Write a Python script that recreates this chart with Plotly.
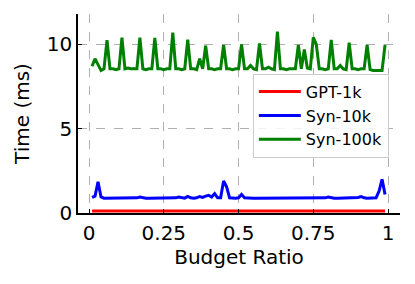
import plotly.graph_objects as go

budget_ratio = [round(0.01 * i, 2) for i in range(1, 100)]

gpt_1k = [0.12] * 99

syn_10k = [
    0.92, 1.0, 1.85, 0.95, 0.88, 0.88, 0.88, 0.87, 0.88, 0.88,
    0.88, 0.88, 0.88, 0.88, 0.88, 0.9, 0.95, 0.9, 0.88, 0.88,
    0.88, 0.88, 0.87, 0.87, 0.88, 0.88, 0.88, 0.88, 0.9, 0.95,
    0.9, 0.88, 0.98, 0.9, 0.88, 0.9, 0.98, 0.93, 1.0, 1.05,
    0.95, 1.15, 0.9, 0.9, 1.9, 1.55, 0.9, 0.88, 0.88, 0.9,
    1.1, 0.9, 0.88, 0.88, 0.88, 0.88, 0.88, 0.88, 0.88, 0.88,
    0.88, 0.88, 0.88, 0.88, 0.88, 0.88, 0.88, 0.88, 0.88, 0.88,
    0.88, 0.88, 0.88, 0.88, 0.88, 0.88, 0.88, 0.88, 0.9, 0.95,
    0.9, 0.88, 0.88, 0.88, 0.88, 0.88, 0.88, 0.88, 0.88, 0.92,
    0.97, 0.9, 0.88, 0.88, 0.88, 0.9, 1.3, 2.0, 1.1,
]

syn_100k = [
    8.7, 9.15, 8.8, 8.45, 8.55, 10.25, 8.55, 8.55, 8.5, 8.55,
    10.4, 8.55, 8.6, 8.55, 8.55, 8.55, 10.4, 8.55, 8.5, 8.55,
    8.55, 10.38, 8.55, 8.55, 8.5, 8.55, 8.55, 10.7, 8.55, 8.55,
    8.5, 8.55, 10.28, 8.55, 8.55, 8.5, 9.15, 8.55, 9.92, 8.55,
    8.55, 8.5, 8.55, 8.55, 9.96, 8.55, 8.55, 8.5, 8.55, 8.55,
    10.0, 8.55, 8.55, 8.75, 8.55, 8.5, 10.06, 8.55, 8.55, 8.65,
    8.55, 8.5, 10.75, 8.55, 8.55, 8.5, 8.55, 8.55, 8.55, 9.96,
    8.55, 9.7, 8.6, 8.55, 10.42, 10.0, 8.55, 8.55, 8.5, 8.55,
    10.27, 8.55, 8.55, 8.75, 8.55, 8.5, 10.1, 8.55, 8.55, 8.5,
    8.55, 8.55, 9.96, 8.5, 8.45, 8.45, 8.45, 8.45, 9.96,
]

series_names = ["GPT-1k", "Syn-10k", "Syn-100k"]
series_colors = ["#ff0000", "#0000ff", "#008000"]
x_tick_vals = [0, 0.25, 0.5, 0.75, 1]
x_tick_text = ["0", "0.25", "0.5", "0.75", "1"]
y_tick_vals = [0, 5, 10]
y_tick_text = ["0", "5", "10"]

FONT = "DejaVu Sans"

fig = go.Figure()
for name, ys, col in zip(series_names, [gpt_1k, syn_10k, syn_100k], series_colors):
    fig.add_trace(go.Scatter(
        x=budget_ratio, y=ys, mode="lines", name=name,
        line=dict(color=col, width=3),
    ))

axis_common = dict(
    showline=True, linecolor="black", linewidth=1.5,
    ticks="inside", ticklen=4, tickwidth=1, tickcolor="black",
    showgrid=True, gridcolor="#b0b0b0", gridwidth=1, griddash="dash",
    zeroline=False, mirror=False, automargin=False,
    tickfont=dict(family=FONT, size=20, color="black"),
)

# page body has an 8px default margin; compensate so the plot lands in place
fig.update_layout(
    width=407, height=276,
    margin=dict(l=70, r=15, t=6, b=71),
    paper_bgcolor="white", plot_bgcolor="white",
    font=dict(family=FONT, color="black"),
    xaxis=dict(
        range=[-0.037, 1.040], tickvals=x_tick_vals, ticktext=x_tick_text,
        title=dict(text="Budget Ratio", font=dict(family=FONT, size=20), standoff=6),
        ticklabelstandoff=1,
        **axis_common,
    ),
    yaxis=dict(
        range=[0, 11.8], tickvals=y_tick_vals, ticktext=y_tick_text,
        title=dict(text="Time (ms)", font=dict(family=FONT, size=20), standoff=12),
        ticklabelstandoff=0,
        **axis_common,
    ),
    legend=dict(
        x=0.543, y=0.70, xanchor="left", yanchor="top",
        bgcolor="rgba(255,255,255,0.85)", bordercolor="#cccccc", borderwidth=1,
        font=dict(family=FONT, size=16, color="black"),
        tracegroupgap=0, itemwidth=42,
    ),
    showlegend=True,
)

fig.write_html("out.html")
